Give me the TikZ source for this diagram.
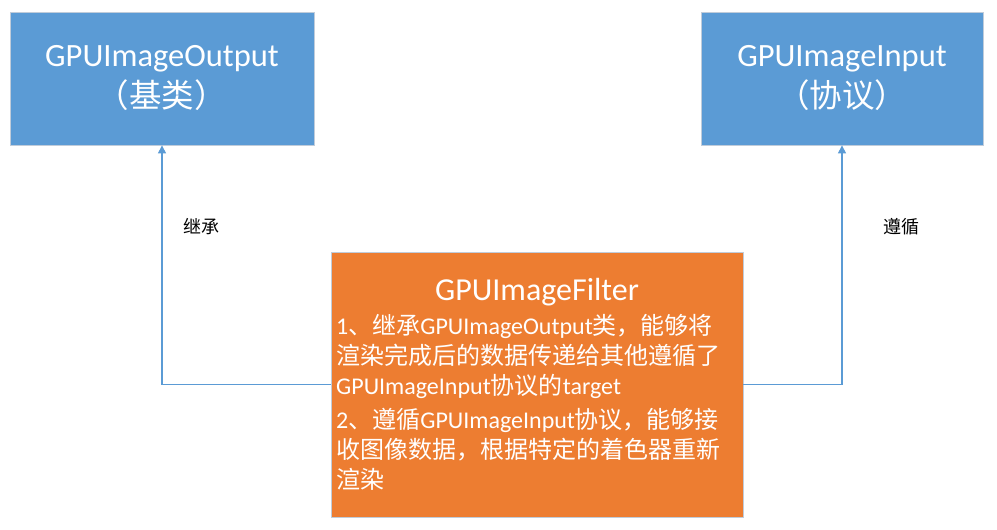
\documentclass[tikz,border=0pt]{standalone}
\usepackage{fontspec}
\setmainfont{Carlito}
\newfontfamily\cjk{Noto Sans CJK SC}
\usetikzlibrary{arrows.meta}
\definecolor{blu}{HTML}{5B9BD5}
\definecolor{org}{HTML}{ED7D31}
\definecolor{edgec}{HTML}{C0CCDA}
\begin{document}
\begin{tikzpicture}[x=1pt,y=-1pt,
  blubox/.style={draw=edgec, line width=0.8pt, fill=blu, text=white, align=center,
    font=\fontsize{32.5}{41}\selectfont, inner sep=0pt},
  orgbox/.style={draw=edgec, line width=0.8pt, fill=org, inner sep=0pt},
  conn/.style={draw=blu, line width=1.1pt, -{Triangle[length=8pt,width=8pt]}},
  lbl/.style={font=\fontsize{18}{22}\selectfont\cjk, text=black}]
\useasboundingbox (0,0) rectangle (997,530);
\node[blubox, minimum width=304pt, minimum height=133pt] (o) at (162,78.5)
  {GPUImageOutput\\{\cjk （基类）}};
\node[blubox, minimum width=282pt, minimum height=133pt] (i) at (842,78.5)
  {GPUImageInput\\{\cjk （协议）}};
\node[orgbox, minimum width=412pt, minimum height=265pt] (f) at (537,384.5) {};
\node[text=white, font=\fontsize{32}{36}\selectfont, inner sep=0pt] (ft) at (537,292) {GPUImageFilter};
\node[text=white, align=left, anchor=north west, inner sep=0pt,
  font=\fontsize{24}{30}\selectfont] (fb) at (336,314)
  {1{\cjk 、继承}GPUImageOutput{\cjk 类，能够将}\\
   {\cjk 渲染完成后的数据传递给其他遵循了}\\
   GPUImageInput{\cjk 协议的}target\\[4pt]
   2{\cjk 、遵循}GPUImageInput{\cjk 协议，能够接}\\
   {\cjk 收图像数据，根据特定的着色器重新}\\
   {\cjk 渲染}};
\draw[conn] (f.west) -| (o.south);
\draw[conn] (f.east) -| (i.south);
\node[lbl] (l1) at (201,227) {继承};
\node[lbl] (l2) at (901,227) {遵循};
\end{tikzpicture}
\end{document}
